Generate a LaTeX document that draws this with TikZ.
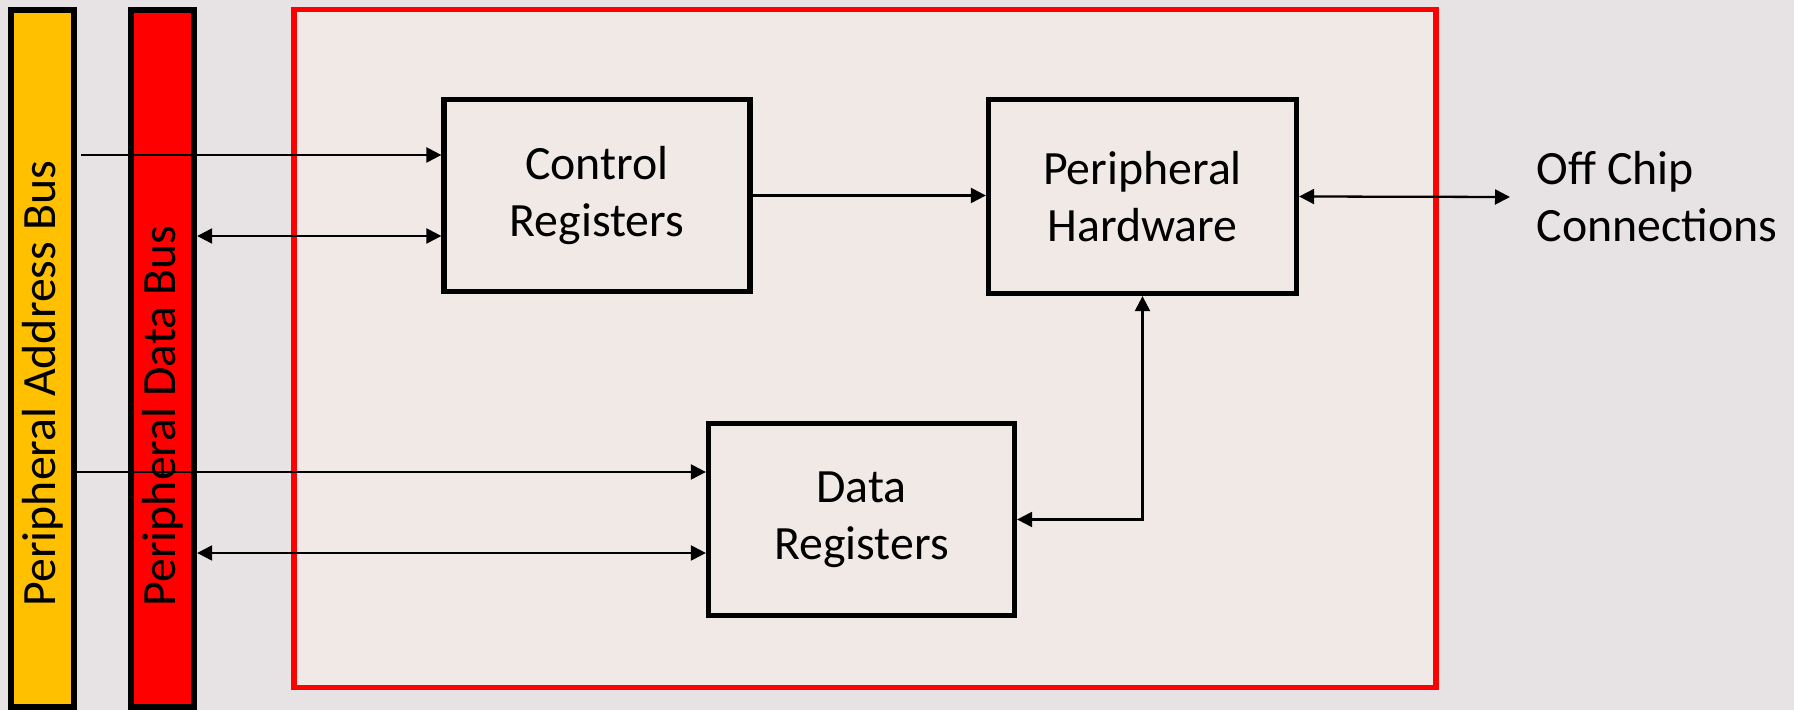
\documentclass[tikz,border=0pt]{standalone}
\usepackage{fontspec}
\setmainfont{Carlito}
\usetikzlibrary{arrows.meta}
\definecolor{busyellow}{RGB}{255,192,0}
\definecolor{busred}{RGB}{255,0,0}
\definecolor{chipbg}{RGB}{231,226,228}
\definecolor{chipin}{RGB}{240,233,229}
\begin{document}
\begin{tikzpicture}[font=\fontsize{13.6}{16.2}\selectfont,
    >={Triangle[length=0.15cm,width=0.15cm]}]
  \tikzstyle{bus}=[draw, line width=1.8pt, minimum width=0.63cm,
                   minimum height=6.97cm, inner sep=0pt]
  \tikzstyle{buslabel}=[rotate=90, anchor=west, inner sep=0pt]
  \tikzstyle{box}=[draw, line width=1.5pt, minimum width=3.06cm,
                   minimum height=1.92cm, align=center, inner sep=0pt]
  \tikzstyle{arrow}=[line width=0.65pt, ->]
  \tikzstyle{dblarrow}=[line width=0.65pt, <->]
  \useasboundingbox (0,0) rectangle (17.94,7.10);
  \fill[chipbg] (0,0) rectangle (17.94,7.10);
  % the peripheral itself
  \draw[busred, line width=1.5pt, fill=chipin] (2.94,0.225) rectangle (14.36,7.005);
  % the two buses
  \node[bus, fill=busyellow] (addr) at (0.425,3.515) {};
  \node[bus, fill=busred]    (data) at (1.625,3.515) {};
  \node[buslabel] (addrlbl) at (0.425,1.03) {Peripheral Address Bus};
  \node[buslabel] (datalbl) at (1.625,1.03) {Peripheral Data Bus};
  % blocks
  \node[box] (ctrl) at (5.97,5.145)  {Control\\Registers};
  \node[box, minimum width=3.08cm, minimum height=1.94cm]
             (hw)   at (11.425,5.135) {Peripheral\\Hardware};
  \node[box] (dreg) at (8.615,1.905) {Data\\Registers};
  \node[anchor=west, align=left, inner sep=0pt] (offchip) at (15.36,5.13)
       {Off Chip\\Connections};
  \coordinate (pins) at (15.10,5.13);
  % connections
  \draw[arrow] ([xshift=0.04cm]addr.east |- 0,5.55) -- (ctrl.west |- 0,5.55);
  \draw[dblarrow] (data.east |- 0,4.74) -- (ctrl.west |- 0,4.74);
  \draw[arrow] (addr.east |- 0,2.38) -- (dreg.west |- 0,2.38);
  \draw[dblarrow] (data.east |- 0,1.57) -- (dreg.west |- 0,1.57);
  \draw[arrow] (ctrl.east) -- (hw.west |- ctrl.east);
  \draw[dblarrow] (hw.east) -- (pins);
  \draw[dblarrow] (hw.south) |- (dreg.east);
\end{tikzpicture}
\end{document}
